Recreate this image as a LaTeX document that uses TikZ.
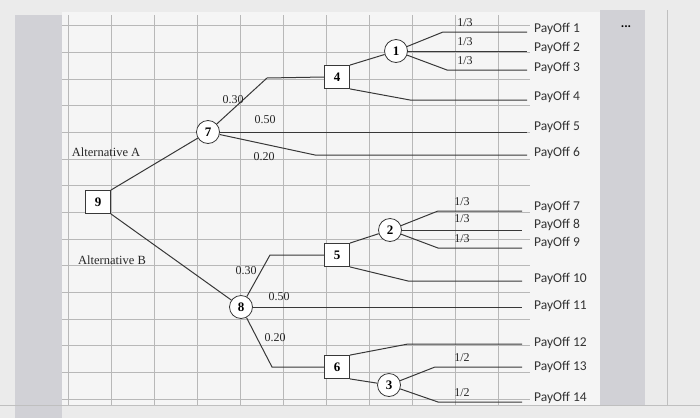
\documentclass[tikz,border=0pt]{standalone}
\usepackage{fontspec}
\setmainfont{Liberation Serif}
\newfontfamily\payfont{Carlito}
\begin{document}
\begin{tikzpicture}[x=1pt,y=-1pt,
  grd/.style={draw=black!28,line width=0.5pt},
  br/.style={draw=black!78,line width=1pt},
  chance/.style={circle,draw=black!78,line width=0.8pt,minimum size=23pt,inner sep=0pt,font=\bfseries\fontsize{13}{13}\selectfont,fill=white},
  dec/.style={rectangle,draw=black!78,line width=0.8pt,minimum width=25pt,minimum height=23pt,inner sep=0pt,font=\bfseries\fontsize{13}{13}\selectfont,fill=white},
  pr/.style={font=\fontsize{12}{12}\selectfont,inner sep=1pt,text=black!85},
  alt/.style={font=\fontsize{12.5}{12.5}\selectfont,inner sep=1pt,text=black!85},
  pay/.style={font=\payfont\fontsize{13.5}{13.5}\selectfont,anchor=west,inner sep=0pt,text=black!80}]
\useasboundingbox (0,0) rectangle (700,418);
\fill[green!3!black!8] (0,0) rectangle (700,418);
\fill[green!2!black!4] (62,12) rectangle (600,405);
\fill[blue!10!black!18] (15,15) rectangle (62,418);
\fill[blue!10!black!18] (600,10) rectangle (645,405);
\draw[black!25] (667,10) -- (667,405);
\draw[black!25] (0,405) -- (700,405);
% grid
\foreach \x in {68,111,154,197,240,283,326,369,412,455,498}
  \draw[grd] (\x,15) -- (\x,405);
\foreach \y in {25,52,79,105,132,159,185,212,239,265,292,319,345,372,399}
  \draw[grd] (62,\y) -- (530,\y);
% nodes
\node[dec] (b9) at (98,202) {9};
\node[chance] (c7) at (208,132) {7};
\node[chance] (c8) at (241,307) {8};
\node[dec] (b4) at (337,77) {4};
\node[dec] (b5) at (337,255) {5};
\node[dec] (b6) at (337,367) {6};
\node[chance] (c1) at (396,51) {1};
\node[chance] (c2) at (390,230) {2};
\node[chance] (c3) at (389,385) {3};
\node[alt] (la) at (106,152) {Alternative A};
\node[alt] (lb) at (112,260) {Alternative B};
% payoff labels and line ends
\foreach \i/\y/\ly/\ex in {1/32/29/527,2/51/48/527,3/70/68/527,4/100/97/527,5/132/127/527,6/155/153/527,
  7/211/207/522,8/230/225/522,9/248/243/522,10/281/279/522,11/307/306/522,12/344/343/522,13/367/367/522,14/402/398/522}{
  \coordinate (e\i) at (\ex,\y);
  \node[pay] (p\i) at (534,\ly) {PayOff \i};
}
\node[font=\payfont\bfseries\fontsize{13}{13}\selectfont] (dots) at (626,27) {...};
% connectors
\draw[br] (b9.north east) -- (c7);
\draw[br] (b9.south east) -- (c8);
\draw[br] (c7) -- (267,78) -- (b4.west);
\draw[br] (c7.east) -- (e5);
\draw[br] (c7) -- (315,155) -- (e6);
\draw[br] (b4.north east) -- (c1);
\draw[br] (b4.south east) -- (410,100) -- (e4);
\draw[br] (c1) -- (443,32) -- (e1);
\draw[br] (c1.east) -- (e2);
\draw[br] (c1) -- (447,70) -- (e3);
\draw[br] (c8) -- (270,255) -- (b5.west);
\draw[br] (c8.east) -- (e11);
\draw[br] (c8) -- (272,367) -- (b6.west);
\draw[br] (b5.north east) -- (c2);
\draw[br] (b5.south east) -- (408,281) -- (e10);
\draw[br] (c2) -- (438,211) -- (e7);
\draw[br] (c2.east) -- (e8);
\draw[br] (c2) -- (438,248) -- (e9);
\draw[br] (b6.north east) -- (408,344) -- (e12);
\draw[br] (b6.south east) -- (c3);
\draw[br] (c3) -- (435,367) -- (e13);
\draw[br] (c3) -- (438,402) -- (e14);
% probability labels
\node[pr] (q1) at (233,100) {0.30};
\node[pr] (q2) at (265,120) {0.50};
\node[pr] (q3) at (264,157) {0.20};
\node[pr] (q4) at (246,271) {0.30};
\node[pr] (q5) at (279,297) {0.50};
\node[pr] (q6) at (275,338) {0.20};
\node[pr] (r1) at (465,23) {1/3};
\node[pr] (r2) at (465,42) {1/3};
\node[pr] (r3) at (465,61) {1/3};
\node[pr] (r4) at (462,202) {1/3};
\node[pr] (r5) at (462,219) {1/3};
\node[pr] (r6) at (462,239) {1/3};
\node[pr] (r7) at (462,358) {1/2};
\node[pr] (r8) at (462,393) {1/2};
\end{tikzpicture}
\end{document}
